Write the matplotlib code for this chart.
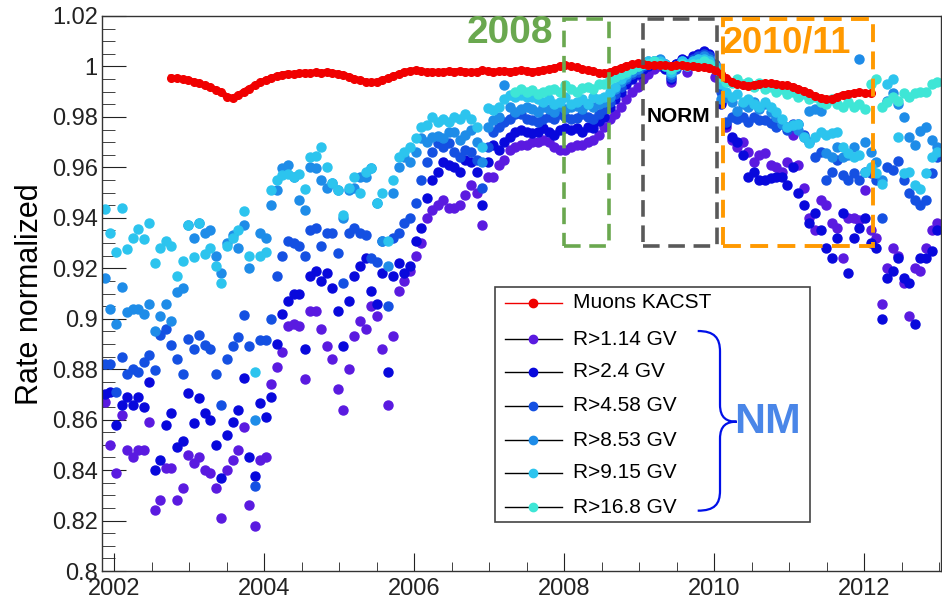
import numpy as np
import pandas as pd
import matplotlib
matplotlib.use("Agg")
import matplotlib.pyplot as plt
from matplotlib.patches import Rectangle, PathPatch
from matplotlib.path import Path
from matplotlib.lines import Line2D
from matplotlib.ticker import MultipleLocator, FuncFormatter

plt.rcParams['font.family'] = ['Liberation Sans', 'DejaVu Sans']

# Bartels rotations (27 days) from Nov 2001
rot_start = "2001-11-17"
n_rot = 151

labels = ["R>1.14 GV", "R>2.4 GV", "R>4.58 GV", "R>8.53 GV", "R>9.15 GV", "R>16.8 GV"]
colors = ["#5a1ae0", "#0808dc", "#1450e2", "#1e8ce8", "#2cc4ee", "#3ee6d6"]

nm_114 = [0.867, 0.850, 0.839, 0.862, 0.848, 0.845, 0.848, 0.848, 0.859, 0.824, 0.828, 0.841, 0.841, 0.828, 0.833,
          0.846, 0.843, 0.845, 0.840, 0.839, 0.833, 0.821, 0.840, 0.844, 0.848, 0.857, 0.826, 0.818, 0.844, 0.845,
          0.874, 0.881, 0.887, 0.897, 0.898, 0.897, 0.876, 0.903, 0.903, 0.896, 0.889, 0.884, 0.872, 0.864, 0.880,
          0.893, 0.899, 0.896, 0.905, 0.901, 0.888, 0.866, 0.893, 0.911, 0.915, 0.919, 0.925, 0.930, 0.940, 0.943,
          0.945, 0.947, 0.944, 0.944, 0.945, 0.949, 0.953, 0.950, 0.937, 0.956, 0.956, 0.961, 0.963, 0.967, 0.968,
          0.969, 0.969, 0.970, 0.970, 0.971, 0.970, 0.968, 0.967, 0.967, 0.968, 0.969, 0.969, 0.970, 0.971, 0.973,
          0.976, 0.979, 0.981, 0.984, 0.987, 0.990, 0.992, 0.995, 0.997, 0.999, 1.000, 1.001, 0.994, 1.001, 1.002,
          0.998, 1.002, 1.003, 1.004, 1.003, 0.996, 0.986, 0.976, 0.971, 0.968, 0.970, 0.966, 0.962, 0.965, 0.9655,
          0.961, 0.960, 0.958, 0.962, 0.973, 0.9608, 0.952, 0.940, 0.935, 0.947, 0.945, 0.938, 0.936, 0.924, 0.940,
          0.940, 0.939, 0.951, 0.935, 0.932, 0.906, 0.920, 0.928, 0.925, 0.914, 0.901, 0.920, 0.919, 0.928, 0.935,
          0.938]

nm_24 = [0.870, 0.871, 0.858, 0.866, 0.869, 0.866, 0.869, 0.865, 0.875, 0.840, 0.844, 0.858, 0.8626, 0.849, 0.8515,
         0.8705, 0.8586, 0.8685, 0.8626, 0.860, 0.850, 0.837, 0.854, 0.859, 0.864, 0.8765, 0.845, 0.8376, 0.8665, 0.861,
         0.869, 0.890, 0.902, 0.907, 0.910, 0.910, 0.888, 0.917, 0.919, 0.915, 0.918, 0.912, 0.903, 0.889, 0.907,
         0.917, 0.921, 0.924, 0.911, 0.906, 0.918, 0.879, 0.917, 0.922, 0.918, 0.921, 0.931, 0.936, 0.948, 0.955,
         0.958, 0.962, 0.961, 0.960, 0.958, 0.963, 0.962, 0.958, 0.945, 0.962, 0.969, 0.967, 0.970, 0.972, 0.974,
         0.975, 0.974, 0.9735, 0.974, 0.9755, 0.974, 0.973, 0.975, 0.9758, 0.975, 0.9755, 0.974, 0.976, 0.9755, 0.9785,
         0.980, 0.984, 0.987, 0.990, 0.993, 0.995, 0.997, 0.999, 1.000, 1.001, 1.002, 0.999, 0.995, 1.001, 1.003,
         1.002, 1.004, 1.005, 1.006, 1.005, 0.999, 0.985, 0.977, 0.972, 0.970, 0.965, 0.956, 0.958, 0.9548, 0.955,
         0.9556, 0.956, 0.956, 0.953, 0.960, 0.950, 0.945, 0.938, 0.942, 0.935, 0.928, 0.924, 0.932, 0.942, 0.918,
         0.932, 0.936, 0.940, 0.930, 0.928, 0.900, 0.916, 0.919, 0.924, 0.916, 0.914, 0.898, 0.924, 0.924, 0.927,
         0.935]

nm_458 = [0.882, 0.882, 0.871, 0.885, 0.878, 0.880, 0.879, 0.883, 0.8855, 0.8796, 0.8935, 0.896, 0.8895, 0.884, 0.878,
          0.892, 0.888, 0.8935, 0.8895, 0.888, 0.878, 0.866, 0.884, 0.889, 0.8927, 0.9014, 0.889, 0.8335, 0.8915, 0.8915,
          0.900, 0.917, 0.925, 0.931, 0.930, 0.929, 0.925, 0.935, 0.9358, 0.929, 0.934, 0.934, 0.926, 0.914, 0.934,
          0.936, 0.934, 0.933, 0.924, 0.9224, 0.931, 0.905, 0.932, 0.934, 0.938, 0.940, 0.946, 0.955, 0.962, 0.966,
          0.9695, 0.968, 0.9695, 0.966, 0.964, 0.967, 0.966, 0.963, 0.952, 0.968, 0.974, 0.976, 0.978, 0.979, 0.981,
          0.981, 0.979, 0.9786, 0.9778, 0.979, 0.980, 0.979, 0.981, 0.980, 0.979, 0.9795, 0.981, 0.980, 0.979, 0.981,
          0.983, 0.986, 0.989, 0.992, 0.995, 0.997, 0.998, 1.000, 1.001, 1.002, 1.002, 1.000, 0.996, 0.999, 1.002,
          1.001, 1.003, 1.004, 1.005, 1.004, 1.001, 0.990, 0.978, 0.980, 0.979, 0.980, 0.978, 0.980, 0.9786, 0.9786,
          0.9774, 0.976, 0.977, 0.975, 0.977, 0.977, 0.973, 0.970, 0.964, 0.966, 0.955, 0.958, 0.963, 0.957, 0.955,
          0.9576, 0.955, 0.958, 0.9576, 0.955, 0.940, 0.960, 0.959, 0.9624, 0.955, 0.950, 0.947, 0.945, 0.947, 0.9576,
          0.964]

nm_853 = [0.916, 0.9038, 0.898, 0.9125, 0.9026, 0.904, 0.904, 0.902, 0.9057, 0.895, 0.901, 0.906, 0.899, 0.9105, 0.912,
          0.937, 0.932, 0.938, 0.934, 0.935, 0.925, 0.918, 0.930, 0.933, 0.928, 0.937, 0.920, 0.860, 0.934, 0.932,
          0.945, 0.951, 0.9596, 0.9608, 0.956, 0.947, 0.943, 0.960, 0.9596, 0.955, 0.952, 0.9537, 0.951, 0.940, 0.951,
          0.952, 0.956, 0.956, 0.9596, 0.946, 0.931, 0.921, 0.950, 0.960, 0.964, 0.962, 0.966, 0.9715, 0.970, 0.972,
          0.9726, 0.9715, 0.974, 0.974, 0.971, 0.973, 0.975, 0.970, 0.962, 0.976, 0.9786, 0.980, 0.9925, 0.984, 0.982,
          0.983, 0.984, 0.983, 0.982, 0.984, 0.983, 0.982, 0.9845, 0.983, 0.984, 0.9845, 0.983, 0.985, 0.984, 0.985,
          0.986, 0.988, 0.991, 0.994, 0.996, 0.998, 0.999, 1.001, 1.002, 1.002, 1.003, 1.001, 0.997, 1.000, 1.002,
          1.001, 1.002, 1.003, 1.004, 1.003, 1.000, 0.987, 0.9877, 0.986, 0.9825, 0.985, 0.984, 0.986, 0.983, 0.985,
          0.982, 0.980, 0.977, 0.976, 0.9766, 0.975, 0.972, 0.9825, 0.983, 0.9825, 0.9655, 0.964, 0.968, 0.964, 0.965,
          0.968, 1.003, 0.970, 0.966, 0.962, 0.955, 0.9865, 0.9893, 0.985, 0.980, 0.972, 0.969, 0.9746, 0.976, 0.971,
          0.968]

nm_915 = [0.9434, 0.934, 0.9263, 0.944, 0.9275, 0.932, 0.9355, 0.9315, 0.938, 0.922, 0.928, 0.9307, 0.929, 0.9168, 0.923,
          0.937, 0.9243, 0.938, 0.9255, 0.928, 0.921, 0.914, 0.9287, 0.932, 0.935, 0.9426, 0.925, 0.879, 0.9247, 0.9263,
          0.951, 0.955, 0.957, 0.9575, 0.956, 0.9575, 0.9516, 0.964, 0.9647, 0.968, 0.960, 0.954, 0.951, 0.941, 0.952,
          0.956, 0.950, 0.958, 0.9596, 0.946, 0.9497, 0.931, 0.955, 0.964, 0.966, 0.968, 0.9715, 0.976, 0.9766, 0.9798,
          0.978, 0.979, 0.978, 0.980, 0.979, 0.981, 0.979, 0.976, 0.968, 0.9834, 0.9826, 0.984, 0.987, 0.9885, 0.9877,
          0.9885, 0.988, 0.9877, 0.987, 0.986, 0.987, 0.985, 0.986, 0.988, 0.985, 0.986, 0.987, 0.985, 0.988, 0.987,
          0.988, 0.990, 0.992, 0.995, 0.997, 0.999, 1.000, 1.001, 1.002, 1.002, 1.002, 1.001, 0.998, 1.000, 1.002,
          1.001, 1.002, 1.003, 1.003, 1.002, 1.000, 0.993, 0.990, 0.988, 0.989, 0.986, 0.987, 0.985, 0.984, 0.986,
          0.984, 0.982, 0.979, 0.976, 0.9766, 0.977, 0.972, 0.9695, 0.972, 0.974, 0.973, 0.9735, 0.974, 0.968, 0.9655,
          0.964, 0.965, 0.958, 0.960, 0.9576, 0.9536, 0.993, 0.995, 0.972, 0.9576, 0.958, 0.953, 0.9516, 0.9576, 0.964,
          0.966]

# R>16.8 GV starts at rotation 74 (mid 2007)
nm_168_first = 74
nm_168 = [0.990, 0.991, 0.990, 0.9905, 0.989, 0.990, 0.9905, 0.991, 0.990, 0.9925, 0.991, 0.990, 0.9915, 0.992, 0.991, 0.993,
          0.993, 0.995, 0.996, 0.997, 0.998, 0.999, 1.000, 1.001, 1.001, 1.002, 1.001, 1.000, 0.999, 1.000, 1.001,
          1.000, 1.001, 1.001, 1.002, 1.001, 0.999, 0.996, 0.994, 0.9935, 0.995, 0.993, 0.994, 0.992, 0.9935, 0.991,
          0.992, 0.990, 0.991, 0.989, 0.990, 0.988, 0.989, 0.987, 0.988, 0.986, 0.985, 0.987, 0.985, 0.984, 0.986,
          0.984, 0.985, 0.983, 0.993, 0.995, 0.984, 0.986, 0.988, 0.9865, 0.9893, 0.988, 0.9893, 0.9897, 0.9897, 0.993,
          0.994]

# muon telescope, rotations 12..138
muon_first = 12
muons = [0.9955, 0.9953, 0.9950, 0.9946, 0.9940, 0.9933, 0.9925, 0.9917, 0.9908, 0.9897, 0.9880, 0.9876, 0.9885,
         0.9900, 0.9912, 0.9925, 0.9937, 0.9946, 0.9955, 0.9962, 0.9968, 0.9972, 0.9970, 0.9973, 0.9976, 0.9974,
         0.9977, 0.9975, 0.9978, 0.9974, 0.9972, 0.9967, 0.9960, 0.9952, 0.9945, 0.9940, 0.9937, 0.9940, 0.9946,
         0.9953, 0.9962, 0.9970, 0.9978, 0.9983, 0.9985, 0.9982, 0.9978, 0.9980, 0.9977, 0.9979, 0.9982, 0.9980,
         0.9983, 0.9980, 0.9978, 0.9980, 0.9984, 0.9982, 0.9979, 0.9981, 0.9983, 0.9980, 0.9982, 0.9985, 0.9983,
         0.9980, 0.9982, 0.9986, 0.9990, 0.9995, 1.0000, 1.0004, 1.0001, 0.9996, 0.9990, 0.9985, 0.9981, 0.9976,
         0.9973, 0.9978, 0.9986, 0.9995, 1.0003, 1.0008, 1.0012, 1.0010, 1.0006, 1.0004, 1.0007, 1.0005, 1.0003,
         1.0006, 1.0004, 1.0002, 1.0000, 0.9998, 0.9996, 0.9994, 0.9986, 0.9972, 0.9955, 0.9940, 0.9930, 0.9925,
         0.9922, 0.9928, 0.9932, 0.9934, 0.9933, 0.9930, 0.9927, 0.9925, 0.9920, 0.9912, 0.9903, 0.9893, 0.9884,
         0.9875, 0.9870, 0.9872, 0.9880, 0.9888, 0.9892, 0.9895, 0.9897, 0.9895, 0.9893]

legend_labels = ["Muons KACST"] + labels


def decimal_years():
    d = pd.date_range(rot_start, periods=n_rot, freq="27D")
    return np.asarray(d.year + (d.dayofyear - 0.5) / 365.25)


def draw_chart():
    t = decimal_years()
    fig = plt.figure(figsize=(9.42, 6.01), dpi=100)
    W, H = 942, 601
    ax = fig.add_axes([102 / W, 30 / H, 839 / W, 555 / H])

    series = [nm_114, nm_24, nm_458, nm_853, nm_915]
    for vals, c in zip(series, colors[:5]):
        ax.plot(t, vals, ls="none", marker="o", ms=6.5, color=c, mec=c)
    t168 = t[nm_168_first:nm_168_first + len(nm_168)]
    ax.plot(t168, nm_168, ls="none", marker="o", ms=6.5, color=colors[5], mec=colors[5])

    tm = t[muon_first:muon_first + len(muons)]
    ax.plot(tm, muons, color="#f00000", lw=4.5, marker="o", ms=5.5, mec="#f00000")

    ax.set_xlim(2001.84, 2013.02)
    ax.set_ylim(0.8, 1.02)
    ax.xaxis.set_major_locator(MultipleLocator(2))
    ax.xaxis.set_minor_locator(MultipleLocator(0.5))
    ax.yaxis.set_major_locator(MultipleLocator(0.02))
    ax.yaxis.set_minor_locator(MultipleLocator(0.005))
    ax.yaxis.set_major_formatter(FuncFormatter(lambda v, p: f"{round(v, 3):g}"))
    ax.xaxis.set_major_formatter(FuncFormatter(lambda v, p: f"{int(round(v))}"))
    ax.tick_params(axis="both", which="both", direction="in", labelsize=17, top=False, right=False, colors="#222222")
    ax.tick_params(axis="y", which="major", length=17, pad=3)
    ax.tick_params(axis="y", which="minor", length=9)
    ax.tick_params(axis="x", which="major", length=13, pad=5)
    ax.tick_params(axis="x", which="minor", length=6.5)
    for s in ax.spines.values():
        s.set_color("#333333")
        s.set_linewidth(1.0)

    fig.text(30 / W, 1 - 294 / H, "Rate normalized", rotation=90, ha="center", va="center", fontsize=22)

    # period boxes
    ax.add_patch(Rectangle((2007.99, 0.929), 0.61, 0.0897, fill=False, ec="#6aa84f", lw=2.6,
                           ls=(0, (4.6, 2.4)), zorder=5))
    ax.add_patch(Rectangle((2009.05, 0.929), 0.98, 0.0897, fill=False, ec="#595959", lw=2.6,
                           ls=(0, (4.6, 2.4)), zorder=5))
    ax.add_patch(Rectangle((2010.12, 0.929), 1.99, 0.0897, fill=False, ec="#ff9900", lw=2.8,
                           ls=(0, (4.6, 2.4)), zorder=5))
    ax.text(2007.28, 1.0132, "2008", color="#6aa84f", fontsize=28, fontweight="bold", ha="center", va="center")
    ax.text(2010.97, 1.0092, "2010/11", color="#ff9900", fontsize=26, fontweight="bold", ha="center", va="center",
            zorder=6)
    ax.text(2009.52, 0.980, "NORM", color="black", fontsize=15, fontweight="bold", ha="center", va="center", zorder=6)

    # legend, drawn by hand in axes fraction
    ax.add_patch(Rectangle((0.4684, 0.0883), 0.3755, 0.4234, transform=ax.transAxes, fc="white",
                           ec="#444444", lw=1.2, zorder=10))
    rows = [0.4829, 0.4180, 0.3586, 0.2973, 0.2360, 0.1766, 0.1153]
    leg_colors = ["#f00000"] + colors
    for k, (lab, c, yy) in enumerate(zip(legend_labels, leg_colors, rows)):
        lc = c if k == 0 else "black"
        ax.add_line(Line2D([0.4803, 0.5483], [yy, yy], transform=ax.transAxes, color=lc, lw=1.0, zorder=11))
        ax.add_line(Line2D([0.5137], [yy], transform=ax.transAxes, marker="o", ms=6, color=c, mec=c, zorder=12))
        ax.text(0.5614, yy, lab, transform=ax.transAxes, fontsize=15, va="center", ha="left", zorder=12)

    # brace for NM
    xa, xb, xt = 0.710, 0.7366, 0.7565
    verts = [(xa, 0.4324), (0.730, 0.4324), (xb, 0.420), (xb, 0.395),
             (xb, 0.300),
             (xb, 0.275), (0.745, 0.269), (xt, 0.269),
             (0.745, 0.269), (xb, 0.263), (xb, 0.238),
             (xb, 0.145),
             (xb, 0.120), (0.730, 0.1087), (xa, 0.1087)]
    codes = [Path.MOVETO, Path.CURVE4, Path.CURVE4, Path.CURVE4, Path.LINETO,
             Path.CURVE4, Path.CURVE4, Path.CURVE4, Path.CURVE4, Path.CURVE4, Path.CURVE4,
             Path.LINETO, Path.CURVE4, Path.CURVE4, Path.CURVE4]
    ax.add_patch(PathPatch(Path(verts, codes), transform=ax.transAxes, fill=False, ec="#0010e8", lw=1.6, zorder=12))
    ax.text(0.793, 0.269, "NM", transform=ax.transAxes, color="#4a86e8", fontsize=31, fontweight="bold",
            ha="center", va="center", zorder=12)

    fig.savefig("out.png", dpi=100)


if __name__ == '__main__':
    draw_chart()
